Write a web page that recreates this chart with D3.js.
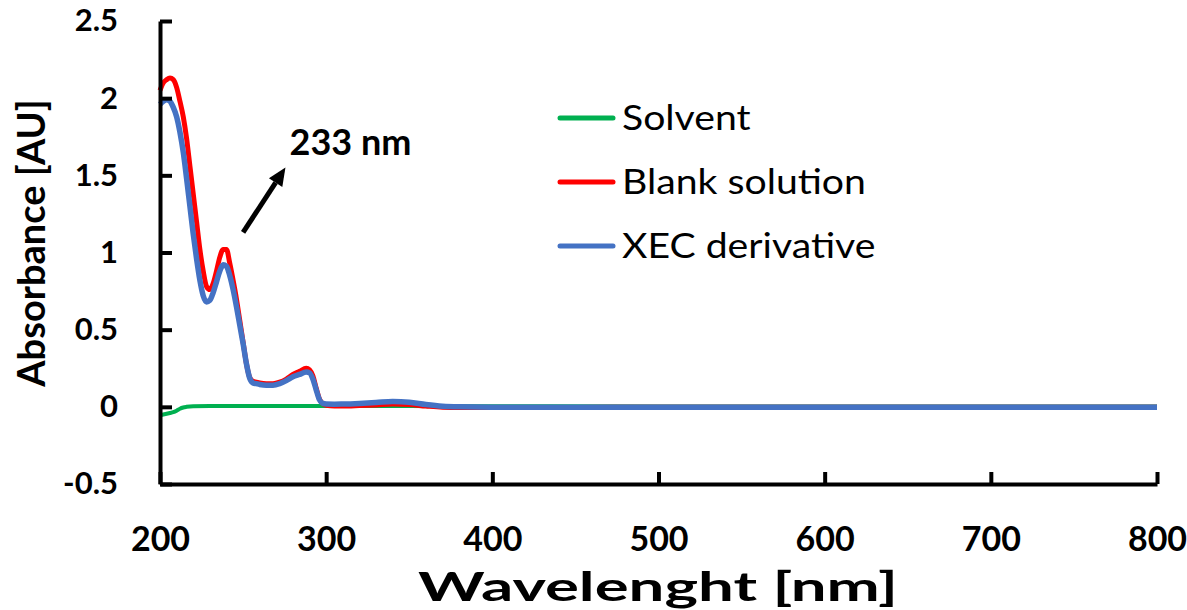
<!DOCTYPE html>
<html>
<head>
<meta charset="utf-8">
<script src="https://cdn.jsdelivr.net/npm/d3@7"></script>
<style>
  body { margin: 0; background: #fff; }
  svg text { font-family: Lato, "Open Sans", sans-serif; fill: #000; }
</style>
</head>
<body>
<div id="chart"></div>
<script>
// Absorbance spectra, values
const wavelengths = [200, 202, 204, 206, 208, 210, 212, 214, 216, 218, 220, 222, 224, 226, 228, 230,
  232, 234, 236, 238, 240, 242, 244, 246, 248, 250, 252, 254, 256, 258, 260, 264, 268, 272, 276,
  280, 284, 288, 290, 292, 294, 296, 298, 300, 305, 310, 320, 330, 340, 350, 360, 370, 380, 400,
  450, 500, 600, 700, 800];

const blankSolution = [2.05, 2.10, 2.12, 2.13, 2.12, 2.07, 1.98, 1.88, 1.74, 1.56, 1.38, 1.20, 1.02, 0.88,
  0.78, 0.76, 0.80, 0.88, 0.97, 1.02, 1.02, 0.93, 0.82, 0.70, 0.56, 0.42, 0.28, 0.19, 0.165, 0.16,
  0.155, 0.15, 0.15, 0.16, 0.18, 0.21, 0.23, 0.25, 0.24, 0.20, 0.12, 0.05, 0.02, 0.01, 0.005, 0.005,
  0.008, 0.012, 0.018, 0.015, 0.005, -0.003, -0.005, -0.005, -0.004, -0.003, -0.003, -0.003, -0.003];

const xecDerivative = [1.96, 1.98, 1.99, 1.98, 1.94, 1.88, 1.78, 1.65, 1.48, 1.30, 1.12, 0.96, 0.82, 0.72,
  0.68, 0.69, 0.74, 0.81, 0.88, 0.92, 0.91, 0.85, 0.76, 0.65, 0.53, 0.41, 0.28, 0.185, 0.155, 0.15,
  0.145, 0.14, 0.14, 0.15, 0.17, 0.195, 0.21, 0.225, 0.22, 0.18, 0.11, 0.045, 0.022, 0.018, 0.017,
  0.018, 0.022, 0.028, 0.035, 0.03, 0.015, 0.004, 0.0, -0.002, -0.002, -0.002, -0.002, -0.002, -0.002];

const solventWavelengths = [200, 202, 204, 206, 208, 210, 212, 214, 216, 220, 230, 250, 300, 350, 400, 500, 600, 700, 800];
const solvent = [-0.055, -0.05, -0.045, -0.04, -0.035, -0.025, -0.012, -0.004, 0.0, 0.004, 0.006, 0.006,
  0.006, 0.005, 0.004, 0.002, 0.002, 0.002, 0.002];

const xTicks = [200, 300, 400, 500, 600, 700, 800];
const yTicks = [-0.5, 0, 0.5, 1, 1.5, 2, 2.5];

const series = [
  { name: "Solvent", x: solventWavelengths, y: solvent, color: "#00b050", width: 4 },
  { name: "Blank solution", x: wavelengths, y: blankSolution, color: "#ff0000", width: 5 },
  { name: "XEC derivative", x: wavelengths, y: xecDerivative, color: "#4472c4", width: 5.5 }
];

const width = 1187, height = 610;
const svg = d3.select("#chart").append("svg")
  .attr("width", width)
  .attr("height", height);

const x = d3.scaleLinear().domain([200, 800]).range([160, 1157]);
const y = d3.scaleLinear().domain([-0.5, 2.5]).range([484, 21]);

// Lines
const line = d3.line()
  .x(d => x(d[0]))
  .y(d => y(d[1]))
  .curve(d3.curveMonotoneX);

series.forEach(s => {
  svg.append("path")
    .datum(s.x.map((w, i) => [w, s.y[i]]))
    .attr("fill", "none")
    .attr("stroke", s.color)
    .attr("stroke-width", s.width)
    .attr("stroke-linejoin", "round")
    .attr("d", line);
});

// Axes (ticks point inward)
const yAxis = svg.append("g")
  .attr("transform", `translate(${x(200)},0)`)
  .call(d3.axisLeft(y).tickValues(yTicks).tickSize(-12).tickSizeOuter(0).tickPadding(42)
    .tickFormat(d => d));
const xAxis = svg.append("g")
  .attr("transform", `translate(0,${y(-0.5)})`)
  .call(d3.axisBottom(x).tickValues(xTicks).tickSize(-12).tickSizeOuter(0).tickPadding(43));

[yAxis, xAxis].forEach(g => {
  g.attr("font-family", null).attr("font-size", null);
  g.select(".domain").attr("stroke", "#000").attr("stroke-width", 4);
  g.selectAll(".tick line").attr("stroke", "#000").attr("stroke-width", 4);
  g.selectAll(".tick text").style("font-weight", "bold");
});
yAxis.selectAll(".tick text").style("font-size", "31px");
xAxis.selectAll(".tick text").style("font-size", "34px");

// Axis titles
svg.append("text")
  .attr("x", 658)
  .attr("y", 601)
  .attr("text-anchor", "middle")
  .attr("textLength", 480)
  .attr("lengthAdjust", "spacingAndGlyphs")
  .style("font-size", "40px")
  .style("font-weight", "bold")
  .text("Wavelenght [nm]");

svg.append("text")
  .attr("transform", "rotate(-90)")
  .attr("x", -243)
  .attr("y", 45)
  .attr("text-anchor", "middle")
  .style("font-size", "38px")
  .style("font-weight", "bold")
  .text("Absorbance [AU]");

// Legend
const legend = svg.append("g").attr("transform", "translate(560,118)");
series.forEach((s, i) => {
  const g = legend.append("g").attr("transform", `translate(0,${i * 64})`);
  g.append("line").attr("x1", 0).attr("x2", 53)
    .attr("stroke", s.color).attr("stroke-width", 5).attr("stroke-linecap", "round");
  g.append("text")
    .attr("transform", "translate(62,0) scale(1.12,1)")
    .attr("dy", "0.35em")
    .style("font-size", "35px")
    .text(s.name);
});

// Peak annotation
const arrowFrom = [250, 1.13], arrowTo = [275.5, 1.55];
const x1 = x(arrowFrom[0]), y1 = y(arrowFrom[1]), x2 = x(arrowTo[0]), y2 = y(arrowTo[1]);
const ang = Math.atan2(y2 - y1, x2 - x1);
const headLen = 18, headHalf = 8;
const bx = x2 - headLen * Math.cos(ang), by = y2 - headLen * Math.sin(ang);
svg.append("line")
  .attr("x1", x1).attr("y1", y1).attr("x2", bx).attr("y2", by)
  .attr("stroke", "#000").attr("stroke-width", 5);
svg.append("path")
  .attr("d", `M${x2},${y2}L${bx + headHalf * Math.sin(ang)},${by - headHalf * Math.cos(ang)}` +
    `L${bx - headHalf * Math.sin(ang)},${by + headHalf * Math.cos(ang)}Z`)
  .attr("fill", "#000");

svg.append("text")
  .attr("x", x(278))
  .attr("y", 155)
  .style("font-size", "36px")
  .style("font-weight", "bold")
  .text("233 nm");
</script>
</body>
</html>
